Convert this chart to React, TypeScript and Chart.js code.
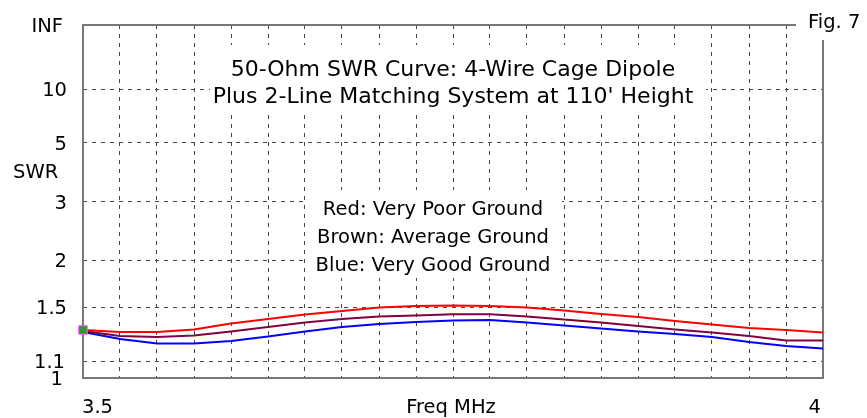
import React, { useEffect, useRef } from "react";
import { Chart, registerables } from "chart.js";

Chart.register(...registerables);

// Frequencies (MHz)
const freqs = [3.5, 3.525, 3.55, 3.575, 3.6, 3.625, 3.65, 3.675, 3.7, 3.725, 3.75, 3.775, 3.8, 3.825, 3.85, 3.875, 3.9, 3.925, 3.95, 3.975, 4.0];
// SWR values per series
const redSWR = [1.315, 1.3, 1.3, 1.318, 1.365, 1.401, 1.439, 1.469, 1.499, 1.512, 1.517, 1.512, 1.499, 1.473, 1.443, 1.418, 1.385, 1.357, 1.33, 1.315, 1.296];
const brownSWR = [1.307, 1.27, 1.263, 1.274, 1.303, 1.338, 1.373, 1.401, 1.422, 1.43, 1.44, 1.44, 1.422, 1.397, 1.373, 1.345, 1.318, 1.296, 1.27, 1.238, 1.237];
const blueSWR = [1.3, 1.248, 1.217, 1.217, 1.234, 1.267, 1.303, 1.338, 1.361, 1.377, 1.389, 1.393, 1.373, 1.349, 1.326, 1.303, 1.285, 1.263, 1.227, 1.199, 1.182];
const sourceSWR = 1.315;
// Y tick labels (SWR values, INF at top)
const yTickSWR = [1, 1.1, 1.5, 2, 3, 5, 10];
const yTickLabels = ["1", "1.1", "1.5", "2", "3", "5", "10"];
const topLabel = "INF";
const xLabels = ["3.5", "4"];
const titleLines = ["50-Ohm SWR Curve: 4-Wire Cage Dipole", "Plus 2-Line Matching System at 110' Height"];
const legendLines = ["Red: Very Poor Ground", "Brown: Average Ground", "Blue: Very Good Ground"];

// SWR -> reflection coefficient (the plot's vertical scale)
const rho = (s: number) => (s - 1) / (s + 1);

const FONT = "'DejaVu Sans', Verdana, sans-serif";

const overlay = {
  id: "overlay",
  beforeDraw(chart: any) {
    const ctx = chart.ctx;
    ctx.save();
    ctx.fillStyle = "#ffffff";
    ctx.fillRect(0, 0, chart.width, chart.height);
    ctx.restore();
  },
  beforeDatasetsDraw(chart: any) {
    const { ctx, chartArea: a } = chart;
    ctx.save();
    // white panels behind title and legend text
    ctx.fillStyle = "#ffffff";
    ctx.fillRect(210, 45, 496, 66);
    ctx.fillRect(308, 190, 254, 88);
    ctx.strokeStyle = "#777777";
    ctx.lineWidth = 2;
    ctx.strokeRect(a.left, a.top, a.right - a.left, a.bottom - a.top);
    ctx.restore();
  },
  afterDraw(chart: any) {
    const { ctx, chartArea: a } = chart;
    const xs = chart.scales.x;
    const ys = chart.scales.y;
    ctx.save();
    ctx.fillStyle = "#000000";
    ctx.font = `19.5px ${FONT}`;
    ctx.textBaseline = "alphabetic";
    // y labels
    ctx.textAlign = "right";
    yTickSWR.forEach((s, i) => {
      const py = ys.getPixelForValue(rho(s));
      let xr = a.left - 16;
      if (s === 1) xr = a.left - 20;
      if (s === 1.1) xr = a.left - 18;
      ctx.fillText(yTickLabels[i], xr, py + 7);
    });
    ctx.fillText(topLabel, a.left - 20, ys.getPixelForValue(1) + 7);
    ctx.textAlign = "left";
    ctx.fillText("SWR", 13, 178);
    // x labels
    ctx.textAlign = "left";
    ctx.fillText(xLabels[0], xs.getPixelForValue(freqs[0]) - 1, 413);
    ctx.textAlign = "right";
    ctx.fillText(xLabels[1], xs.getPixelForValue(freqs[freqs.length - 1]) - 2, 413);
    ctx.textAlign = "center";
    ctx.fillText("Freq MHz", 451, 413);
    // title
    ctx.font = `22px ${FONT}`;
    ctx.textAlign = "center";
    ctx.fillText(titleLines[0], 453, 76);
    ctx.fillText(titleLines[1], 453, 103);
    // legend
    ctx.font = `19.5px ${FONT}`;
    legendLines.forEach((t, i) => ctx.fillText(t, 433, 215 + i * 28));
    // Fig. 7
    ctx.fillStyle = "#ffffff";
    ctx.fillRect(796, 0, chart.width - 796, 40);
    ctx.fillStyle = "#000000";
    ctx.textAlign = "left";
    ctx.fillText("Fig. 7", 808, 28);
    ctx.restore();
  },
};

export default function App() {
  const ref = useRef<HTMLCanvasElement>(null);
  useEffect(() => {
    const mk = (arr: number[]) => freqs.map((f, i) => ({ x: f, y: rho(arr[i]) }));
    const gridColor = (c: any) => {
      const v = c.tick ? c.tick.value : 0;
      return Math.abs(v - c.scale.min) < 1e-9 || Math.abs(v - c.scale.max) < 1e-9 ? "rgba(0,0,0,0)" : "#474747";
    };
    const chart = new Chart(ref.current!, {
      type: "line",
      data: {
        datasets: [
          { data: mk(redSWR), borderColor: "#ff0000", borderWidth: 2, pointRadius: 0, tension: 0 },
          { data: mk(brownSWR), borderColor: "#800040", borderWidth: 2, pointRadius: 0, tension: 0 },
          { data: mk(blueSWR), borderColor: "#0000ff", borderWidth: 2, pointRadius: 0, tension: 0 },
          {
            data: [{ x: freqs[0], y: rho(sourceSWR) }],
            showLine: false,
            pointStyle: "rect",
            pointRadius: 6,
            backgroundColor: "#2a9a2a",
            borderColor: "#ff55ff",
            borderWidth: 1,
            clip: false,
            order: -1,
          } as any,
        ],
      },
      options: {
        animation: false,
        responsive: false,
        devicePixelRatio: 1,
        layout: { padding: { left: 83, right: 44, top: 25, bottom: 40 } },
        plugins: { legend: { display: false }, tooltip: { enabled: false }, title: { display: false } },
        scales: {
          x: {
            type: "linear",
            min: freqs[0],
            max: freqs[freqs.length - 1],
            afterBuildTicks: (s: any) => {
              s.ticks = freqs.map((v) => ({ value: v }));
            },
            ticks: { display: false },
            border: { display: false, dash: [4, 5] },
            grid: { color: gridColor, lineWidth: 1, drawTicks: false } as any,
          },
          y: {
            type: "linear",
            min: 0,
            max: 1,
            afterBuildTicks: (s: any) => {
              s.ticks = [...yTickSWR.map((v) => ({ value: rho(v) })), { value: 1 }];
            },
            ticks: { display: false },
            border: { display: false, dash: [4, 5] },
            grid: { color: gridColor, lineWidth: 1, drawTicks: false } as any,
          },
        },
      },
      plugins: [overlay],
    } as any);
    return () => chart.destroy();
  }, []);
  return (
    <div style={{ position: "fixed", left: 0, top: 0, width: 867, height: 418, background: "#fff" }}>
      <canvas ref={ref} width={867} height={418} style={{ width: 867, height: 418 }} />
    </div>
  );
}
